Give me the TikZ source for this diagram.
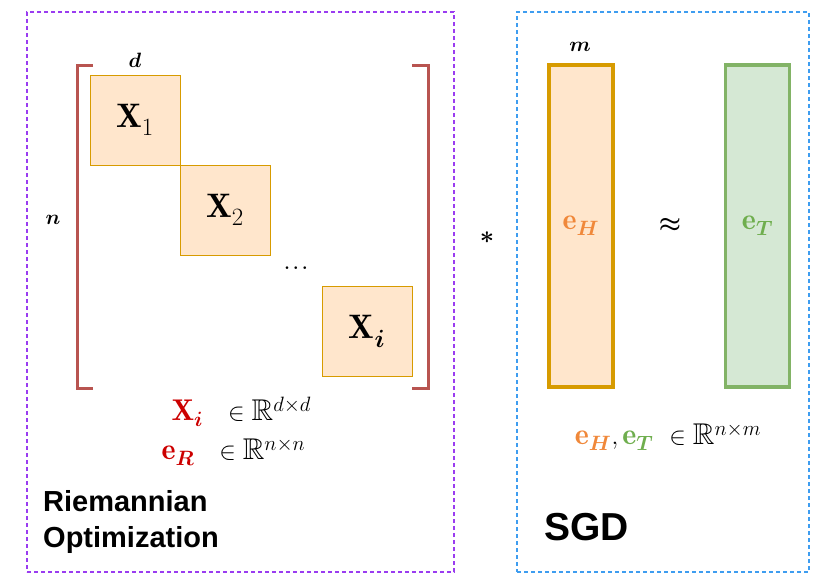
\documentclass[tikz,border=0pt]{standalone}
\usepackage{amsmath,amssymb,bm}
\usepackage{fontspec}
\setsansfont{Liberation Sans}
\newcommand{\fs}[1]{\fontsize{#1}{#1}\selectfont}
\begin{document}
\begin{tikzpicture}[x=1pt,y=-1pt]
\definecolor{pur}{HTML}{9A3CF0}
\definecolor{blu}{HTML}{3E9DF0}
\definecolor{brk}{HTML}{B85450}
\definecolor{obd}{HTML}{D79B00}
\definecolor{ofl}{HTML}{FFE6CC}
\definecolor{gbd}{HTML}{82B366}
\definecolor{gfl}{HTML}{D5E8D4}
\definecolor{otx}{HTML}{F0883A}
\definecolor{gtx}{HTML}{6FAE4E}
\definecolor{rtx}{HTML}{CC0000}
\tikzset{grp/.style={draw,dashed,line width=1.2pt,dash pattern=on 4pt off 3pt},
 blk/.style={draw=obd,fill=ofl,line width=0.8pt,minimum size=90pt,inner sep=0pt,font=\fs{34}},
 vec/.style={line width=3.5pt,minimum width=64pt,minimum height=322pt,inner sep=0pt,font=\fs{30}},
 lbl/.style={font=\fs{20}},
 frm/.style={font=\fs{30}},
 brack/.style={draw=brk,line width=3pt}}
\useasboundingbox (0,0) rectangle (831,587);
\node[grp,draw=pur,minimum width=427pt,minimum height=560pt] (g1) at (240.5,292) {};
\node[grp,draw=blu,minimum width=292pt,minimum height=560pt] (g2) at (663,292) {};
\draw[brack] (93,65) -- (77,65) -- (77,388) -- (93,388);
\draw[brack] (412,65) -- (428,65) -- (428,388) -- (412,388);
\node[blk] (x1) at (135,120) {$\mathbf{X}_1$};
\node[blk] (x2) at (225,210) {$\mathbf{X}_2$};
\node[blk] (xi) at (367,331) {$\mathbf{X}_{\bm i}$};
\node[font=\fs{16}] (dots) at (296,268) {$\bm\ldots$};
\node[lbl] (d) at (135,60) {$\bm d$};
\node[lbl] (n) at (53,220) {$\bm n$};
\node[font=\fs{64}] (star) at (487,238) {$\bm\ast$};
\node[vec,draw=obd,fill=ofl] (eh) at (581,226) {\color{otx}$\mathbf{e}_{\bm H}$};
\node[vec,draw=gbd,fill=gfl] (et) at (757.5,226) {\color{gtx}$\mathbf{e}_{\bm T}$};
\node[lbl] (m) at (580,47) {$\bm m$};
\node[font=\fs{42}] (approx) at (670,225) {$\bm\approx$};
\node[frm,anchor=west] (t1) at (168,412) {$\color{rtx}\mathbf{X}_{\bm i}\ \ \color{black}\in\mathbb{R}^{d\times d}$};
\node[frm,anchor=west] (t2) at (158,452) {$\color{rtx}\mathbf{e}_{\bm R}\ \ \color{black}\in\mathbb{R}^{n\times n}$};
\node[frm] (t3) at (668,437) {$\color{otx}\mathbf{e}_{\bm H}\color{black},\color{gtx}\mathbf{e}_{\bm T}\ \color{black}\in\mathbb{R}^{n\times m}$};
\node[font=\sffamily\bfseries\fontsize{29}{36}\selectfont,align=left,anchor=north west,inner sep=0pt] (ro) at (43,490) {Riemannian\\Optimization};
\node[font=\sffamily\bfseries\fontsize{39}{44}\selectfont,anchor=west,inner sep=0pt] (sgd) at (544,527) {SGD};
\end{tikzpicture}
\end{document}
